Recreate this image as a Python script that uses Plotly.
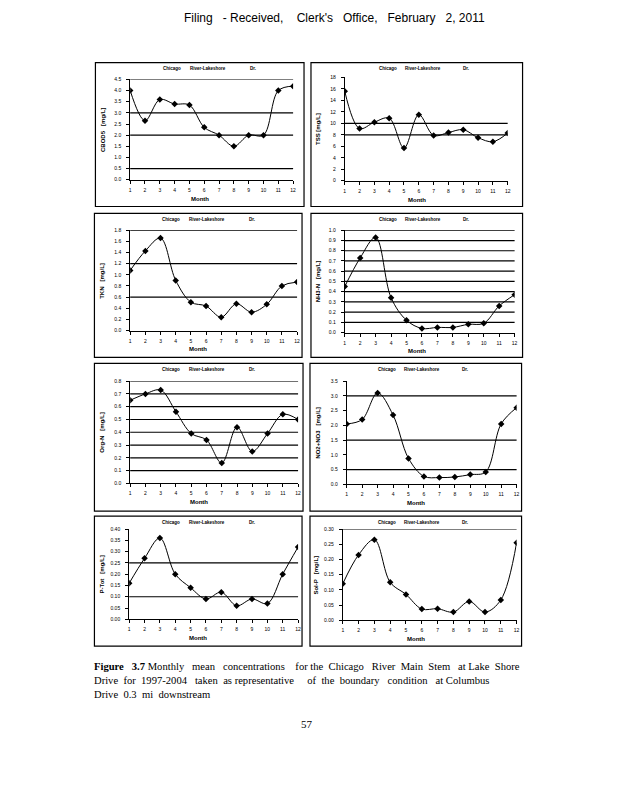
import plotly.graph_objects as go

OFF = 8  # browser default body margin
W, H = 618 - 2 * OFF, 800 - 2 * OFF

months = list(range(1, 13))

cbod5 = [4.0, 2.65, 3.6, 3.4, 3.35, 2.35, 2.0, 1.5, 2.0, 2.0, 4.0, 4.2]
tss = [15.6, 9.1, 10.2, 10.9, 5.7, 11.5, 7.9, 8.4, 8.9, 7.5, 6.8, 8.3]
tkn = [1.08, 1.43, 1.66, 0.90, 0.51, 0.44, 0.24, 0.48, 0.33, 0.47, 0.80, 0.87]
nh3n = [0.45, 0.73, 0.93, 0.34, 0.12, 0.04, 0.05, 0.05, 0.08, 0.09, 0.26, 0.37]
orgn = [0.65, 0.70, 0.73, 0.56, 0.39, 0.34, 0.16, 0.44, 0.25, 0.39, 0.54, 0.50]
no23 = [2.05, 2.20, 3.10, 2.35, 0.88, 0.27, 0.23, 0.25, 0.33, 0.42, 2.05, 2.60]
ptot = [0.16, 0.27, 0.36, 0.20, 0.14, 0.09, 0.12, 0.06, 0.09, 0.07, 0.20, 0.32]
solp = [0.12, 0.215, 0.265, 0.125, 0.085, 0.037, 0.038, 0.027, 0.062, 0.027, 0.067, 0.255]

y_titles = ["CBOD5\u00a0\u00a0\u00a0[mg/L]", "TSS [mg/L]", "TKN\u00a0\u00a0\u00a0[mg/L]",
            "NH3-N\u00a0\u00a0\u00a0[mg/L]", "Org-N\u00a0\u00a0\u00a0[mg/L]", "NO2+NO3\u00a0\u00a0\u00a0[mg/L]",
            "P-Tot\u00a0\u00a0\u00a0[mg/L]", "Sol-P\u00a0\u00a0\u00a0[mg/L]"]
y_max = [4.5, 18, 1.8, 1.0, 0.8, 3.5, 0.40, 0.30]
y_step = [0.5, 2, 0.2, 0.1, 0.1, 0.5, 0.05, 0.05]
y_fmt = [".1f", "d", ".1f", ".1f", ".1f", ".1f", ".2f", ".2f"]
grids = [
    [0.5, 2.0, 3.0, 4.5],
    [8, 10],
    [0.6, 1.2, 1.8],
    [0.1, 0.2, 0.3, 0.4, 0.5, 0.6, 0.7, 0.8, 0.9, 1.0],
    [0.1, 0.2, 0.3, 0.4, 0.5, 0.6, 0.7, 0.8],
    [0.5, 1.5, 3.0],
    [0.10, 0.25],
    [0.30],
]
series = [cbod5, tss, tkn, nh3n, orgn, no23, ptot, solp]

# layout geometry in page pixels
boxes = [(95, 60, 305, 205), (312, 60, 525, 205),
         (94, 212, 303, 357), (312, 212, 525, 357),
         (94, 363, 304, 512), (311, 363, 524, 512),
         (94, 517, 303, 648), (311, 517, 524, 648)]
plots = [(130, 77, 294, 178), (346, 75, 510, 179),
         (130, 229, 298, 330), (346, 229, 517, 332),
         (130, 381, 299, 484), (348, 381, 519, 485),
         (129, 530, 299, 621), (344, 530, 519, 622)]
ytitle_x = [102, 319, 102, 319, 102, 319, 102, 317]
title_offsets = [(172, 208, 254), (390, 425, 468)]

def px(x):
    return (x - OFF) / W

def py(y):
    return 1 - (y - OFF) / H

fig = go.Figure()
layout = dict(width=W, height=H, margin=dict(l=0, r=0, t=0, b=0),
              paper_bgcolor="white", plot_bgcolor="white", showlegend=False)
shapes = []
annotations = []
tickfont = dict(family="Liberation Sans", size=5, color="black")

for i in range(8):
    n = "" if i == 0 else str(i + 1)
    xa, ya = "x" + n, "y" + n
    fig.add_trace(go.Scatter(x=months, y=series[i], xaxis=xa, yaxis=ya,
                             mode="lines+markers",
                             line=dict(color="black", width=1, shape="spline", smoothing=1.0),
                             marker=dict(symbol="diamond", size=5, color="black")))
    x0, y0, x1, y1 = plots[i]
    nt = int(round(y_max[i] / y_step[i]))
    tv = [round(k * y_step[i], 4) for k in range(nt + 1)]
    layout["xaxis" + n] = dict(domain=[px(x0), px(x1)], range=[1, 12], anchor=ya,
                               tickvals=months, showgrid=False, zeroline=False,
                               showline=True, linecolor="black", linewidth=1,
                               ticks="outside", ticklen=3, tickcolor="black",
                               ticklabelstandoff=2, tickfont=tickfont)
    layout["yaxis" + n] = dict(domain=[py(y1), py(y0)], range=[0, y_max[i]], anchor=xa,
                               tickvals=tv, tickformat=y_fmt[i], showgrid=False, zeroline=False,
                               showline=True, linecolor="black", linewidth=1,
                               ticks="outside", ticklen=3, tickcolor="black",
                               ticklabelstandoff=4, tickfont=tickfont)
    for g in grids[i]:
        shapes.append(dict(type="line", xref=xa + " domain", yref=ya, x0=0, x1=1, y0=g, y1=g,
                           line=dict(color="black", width=1.2)))
    bx0, by0, bx1, by1 = boxes[i]
    shapes.append(dict(type="rect", xref="paper", yref="paper", x0=px(bx0), x1=px(bx1),
                       y0=py(by1), y1=py(by0), line=dict(color="black", width=1.2)))
    # panel title
    col = i % 2
    tx = title_offsets[col]
    dx = bx0 - boxes[col][0]
    for t, xx in zip(["Chicago", "River-Lakeshore", "Dr."], tx):
        annotations.append(dict(text="<b>" + t + "</b>", x=px(xx + dx), y=py(by0 + 6),
                                xref="paper", yref="paper", showarrow=False,
                                xanchor="center", yanchor="middle",
                                font=dict(family="Liberation Sans", size=4.5, color="black")))
    # y title
    annotations.append(dict(text="<b>" + y_titles[i] + "</b>", x=px(ytitle_x[i]),
                            y=py((y0 + y1) / 2), xref="paper", yref="paper", showarrow=False,
                            textangle=-90, xanchor="center", yanchor="middle",
                            font=dict(family="Liberation Sans", size=6, color="black")))
    # x title
    annotations.append(dict(text="<b>Month</b>", x=px((bx0 + bx1) / 2), y=py(y1 + 19),
                            xref="paper", yref="paper", showarrow=False,
                            xanchor="center", yanchor="middle",
                            font=dict(family="Liberation Sans", size=6, color="black")))

sp = "\u00a0"
annotations.append(dict(text="Filing" + sp * 3 + "- Received," + sp * 4 + "Clerk's" + sp * 3 + "Office," + sp * 3 +
                        "February" + sp * 3 + "2," + sp + "2011",
                        x=px(336), y=py(15), xref="paper", yref="paper", showarrow=False,
                        xanchor="center", yanchor="middle",
                        font=dict(family="Liberation Sans", size=12, color="black")))

cap_lines = [
    "<b>Figure</b>" + sp * 3 + "<b>3.7</b> Monthly" + sp * 3 + "mean" + sp * 3 + "concentrations" + sp * 4 +
    "for the" + sp * 2 + "Chicago" + sp * 3 + "River" + sp * 2 + "Main" + sp * 2 + "Stem" + sp * 3 + "at Lake" + sp * 2 + "Shore",
    "Drive" + sp * 2 + "for" + sp * 2 + "1997-2004" + sp * 3 + "taken" + sp * 2 + "as representative" + sp * 5 +
    "of" + sp * 2 + "the" + sp * 2 + "boundary" + sp * 3 + "condition" + sp * 3 + "at Columbus",
    "Drive" + sp * 2 + "0.3" + sp * 2 + "mi" + sp * 2 + "downstream",
]
for k, line in enumerate(cap_lines):
    annotations.append(dict(text=line, x=px(92), y=py(669 + 14 * k), xref="paper", yref="paper",
                            showarrow=False, xanchor="left", yanchor="middle",
                            font=dict(family="Liberation Serif", size=10.6, color="black")))
annotations.append(dict(text="57", x=px(308), y=py(727), xref="paper", yref="paper",
                        showarrow=False, xanchor="center", yanchor="middle",
                        font=dict(family="Liberation Serif", size=11, color="black")))

layout["shapes"] = shapes
layout["annotations"] = annotations
fig.update_layout(**layout)
fig.write_html("out.html")
